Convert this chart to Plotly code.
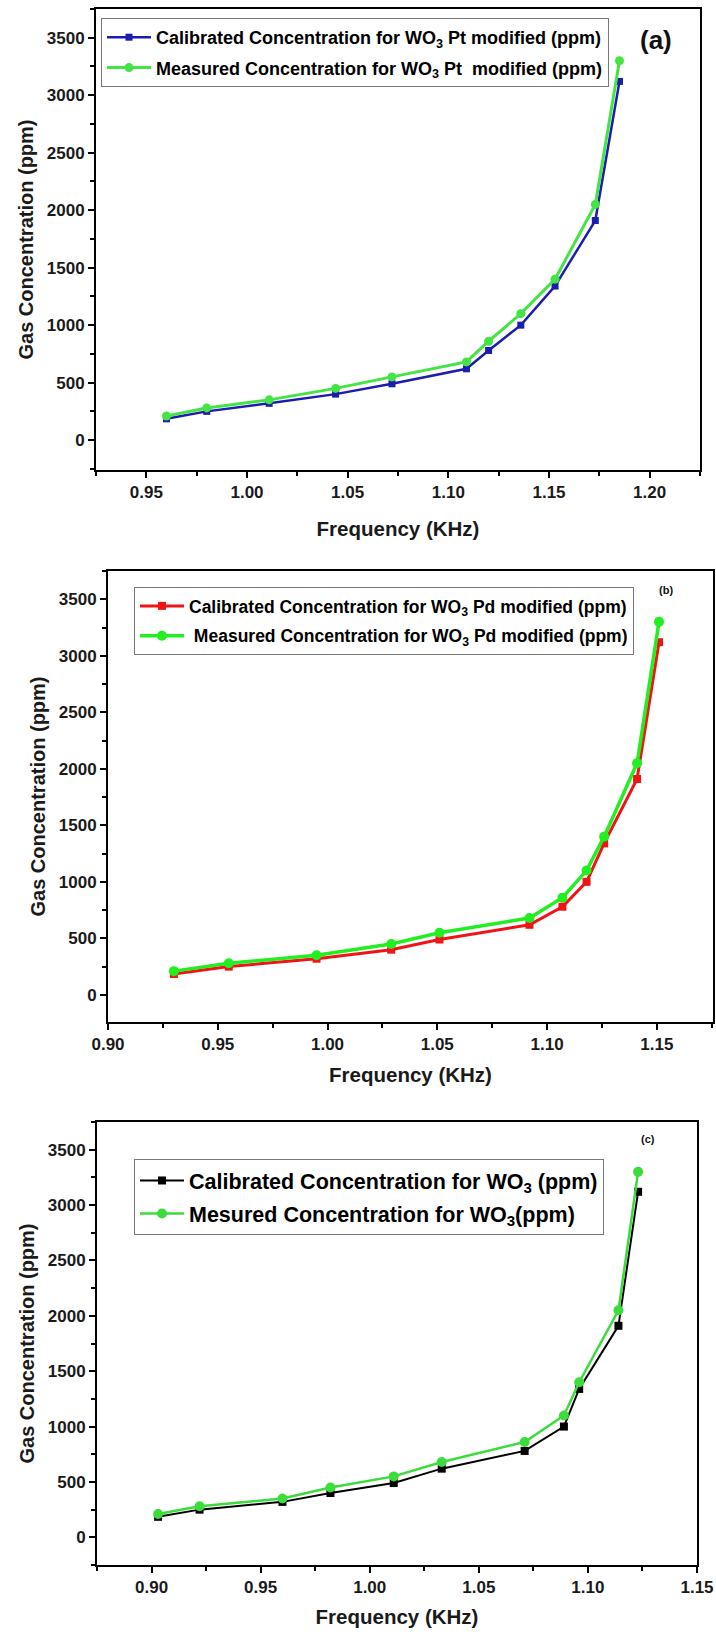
import plotly.graph_objects as go

# ---- data -------------------------------------------------------------
# frequency (KHz) of each sample for the three sensors
freq_pt = [0.960, 0.980, 1.011, 1.044, 1.072, 1.109, 1.120, 1.136, 1.153, 1.173, 1.185]
freq_pd = [0.930, 0.955, 0.995, 1.029, 1.051, 1.092, 1.107, 1.118, 1.126, 1.141, 1.151]
freq_wo3 = [0.903, 0.922, 0.960, 0.982, 1.011, 1.033, 1.071, 1.089, 1.096, 1.114, 1.123]

# gas concentration (ppm)
calibrated_ppm = [185, 250, 320, 400, 490, 620, 780, 1000, 1340, 1910, 3120]
measured_ppm = [210, 280, 350, 450, 550, 680, 860, 1100, 1400, 2050, 3300]

conc_ticks = [0, 500, 1000, 1500, 2000, 2500, 3000, 3500]
freq_ticks_pt = [0.95, 1.00, 1.05, 1.10, 1.15, 1.20]
freq_ticks_pd = [0.90, 0.95, 1.00, 1.05, 1.10, 1.15]
freq_ticks_wo3 = [0.90, 0.95, 1.00, 1.05, 1.10, 1.15]

# ---- layout helpers ----------------------------------------------------
W, H = 716, 1636
FONT = "Liberation Sans, Arial, sans-serif"


def dom_x(left, right):
    return [left / W, right / W]


def dom_y(top, bottom):
    return [1 - bottom / H, 1 - top / H]


panels = [
    dict(
        key="", freq=freq_pt, ticks=freq_ticks_pt, xrange=[0.925, 1.225], yrange=[-260, 3750],
        box=(96, 700, 9, 470), cal_color="#1c1cb0", meas_color="#44e444",
        cal_name="Calibrated Concentration for WO<sub>3</sub> Pt modified (ppm)",
        meas_name="Measured Concentration for WO<sub>3</sub> Pt\u00a0 modified (ppm)",
        legend_pos=(101, 18), legend_font=18, legend_gap=4,
        label="(a)", label_pos=(656, 40), label_size=26,
        lw=2.5, sq=7, circ=9, xstand=20,
    ),
    dict(
        key="2", freq=freq_pd, ticks=freq_ticks_pd, xrange=[0.90, 1.1756], yrange=[-240, 3750],
        box=(108, 713, 571, 1022), cal_color="#f01515", meas_color="#22ee22",
        cal_name="Calibrated Concentration for WO<sub>3</sub> Pd modified (ppm)",
        meas_name="\u00a0Measured Concentration for WO<sub>3</sub> Pd modified (ppm)",
        legend_pos=(134, 587), legend_font=17.5, legend_gap=4,
        label="(b)", label_pos=(666, 590), label_size=11,
        lw=3, sq=8, circ=10, xstand=14,
    ),
    dict(
        key="3", freq=freq_wo3, ticks=freq_ticks_wo3, xrange=[0.875, 1.15], yrange=[-250, 3750],
        box=(97, 697, 1122, 1565), cal_color="#000000", meas_color="#3cdc3c",
        cal_name="Calibrated Concentration for WO<sub>3</sub> (ppm)",
        meas_name="Mesured Concentration for WO<sub>3</sub>(ppm)",
        legend_pos=(134, 1159), legend_font=21.5, legend_gap=2,
        label="(c)", label_pos=(648, 1139), label_size=11,
        lw=2, sq=8, circ=10, xstand=13,
    ),
]

fig = go.Figure()
layout = dict(
    width=W, height=H,
    margin=dict(l=0, r=0, t=0, b=0),
    paper_bgcolor="white", plot_bgcolor="white",
    font=dict(family=FONT, color="black"),
    showlegend=True,
    annotations=[],
)

for p in panels:
    k = p["key"]
    xa, ya = "x" + k, "y" + k
    legend_id = "legend" + k
    left, right, top, bottom = p["box"]

    fig.add_trace(go.Scatter(
        x=p["freq"], y=calibrated_ppm, xaxis=xa, yaxis=ya,
        mode="lines+markers", name=p["cal_name"],
        line=dict(color=p["cal_color"], width=p["lw"]),
        marker=dict(symbol="square", size=p["sq"], color=p["cal_color"]),
        legend=legend_id, legendgroup="cal" + k,
    ))
    fig.add_trace(go.Scatter(
        x=p["freq"], y=measured_ppm, xaxis=xa, yaxis=ya,
        mode="lines+markers", name=p["meas_name"],
        line=dict(color=p["meas_color"], width=p["lw"] + 0.5),
        marker=dict(symbol="circle", size=p["circ"], color=p["meas_color"]),
        legend=legend_id, legendgroup="meas" + k,
    ))

    layout["xaxis" + k] = dict(
        domain=dom_x(left, right), range=p["xrange"], anchor=ya,
        tickmode="array", tickvals=p["ticks"], ticktext=["%.2f" % t for t in p["ticks"]],
        ticks="outside", ticklen=6, tickwidth=2, tickcolor="black",
        minor=dict(tickmode="linear", tick0=0.9, dtick=0.025, ticks="outside",
                   ticklen=4, tickwidth=1.5, tickcolor="black"),
        showline=True, linewidth=2, linecolor="black", mirror=True,
        showgrid=False, zeroline=False, automargin=False,
        tickfont=dict(family=FONT, size=17, weight="bold", color="#1a1a1a"),
        title=dict(text="Frequency (KHz)", standoff=p["xstand"],
                   font=dict(family=FONT, size=20.5, weight="bold", color="#1a1a1a")),
    )
    layout["yaxis" + k] = dict(
        domain=dom_y(top, bottom), range=p["yrange"], anchor=xa,
        tickmode="array", tickvals=conc_ticks, ticktext=[str(t) for t in conc_ticks],
        ticks="outside", ticklen=6, tickwidth=2, tickcolor="black",
        minor=dict(tickmode="linear", tick0=0, dtick=250, ticks="outside",
                   ticklen=4, tickwidth=1.5, tickcolor="black"),
        showline=True, linewidth=2, linecolor="black", mirror=True,
        showgrid=False, zeroline=False, automargin=False,
        tickfont=dict(family=FONT, size=17, weight="bold", color="#1a1a1a"),
        title=dict(text="Gas Concentration (ppm)", standoff=8,
                   font=dict(family=FONT, size=20, weight="bold", color="#1a1a1a")),
    )
    lx, ly = p["legend_pos"]
    layout[legend_id] = dict(
        x=lx / W, y=1 - ly / H, xanchor="left", yanchor="top",
        bgcolor="white", bordercolor="#777777", borderwidth=1,
        font=dict(family=FONT, size=p["legend_font"], weight="bold", color="black"),
        tracegroupgap=p["legend_gap"], traceorder="grouped", itemwidth=44,
    )
    tx, ty = p["label_pos"]
    layout["annotations"].append(dict(
        text=p["label"], x=tx / W, y=1 - ty / H, xref="paper", yref="paper",
        xanchor="center", yanchor="middle", showarrow=False,
        font=dict(family=FONT, size=p["label_size"], weight="bold", color="#111111"),
    ))

fig.update_layout(**layout)
fig.write_html("out.html")
